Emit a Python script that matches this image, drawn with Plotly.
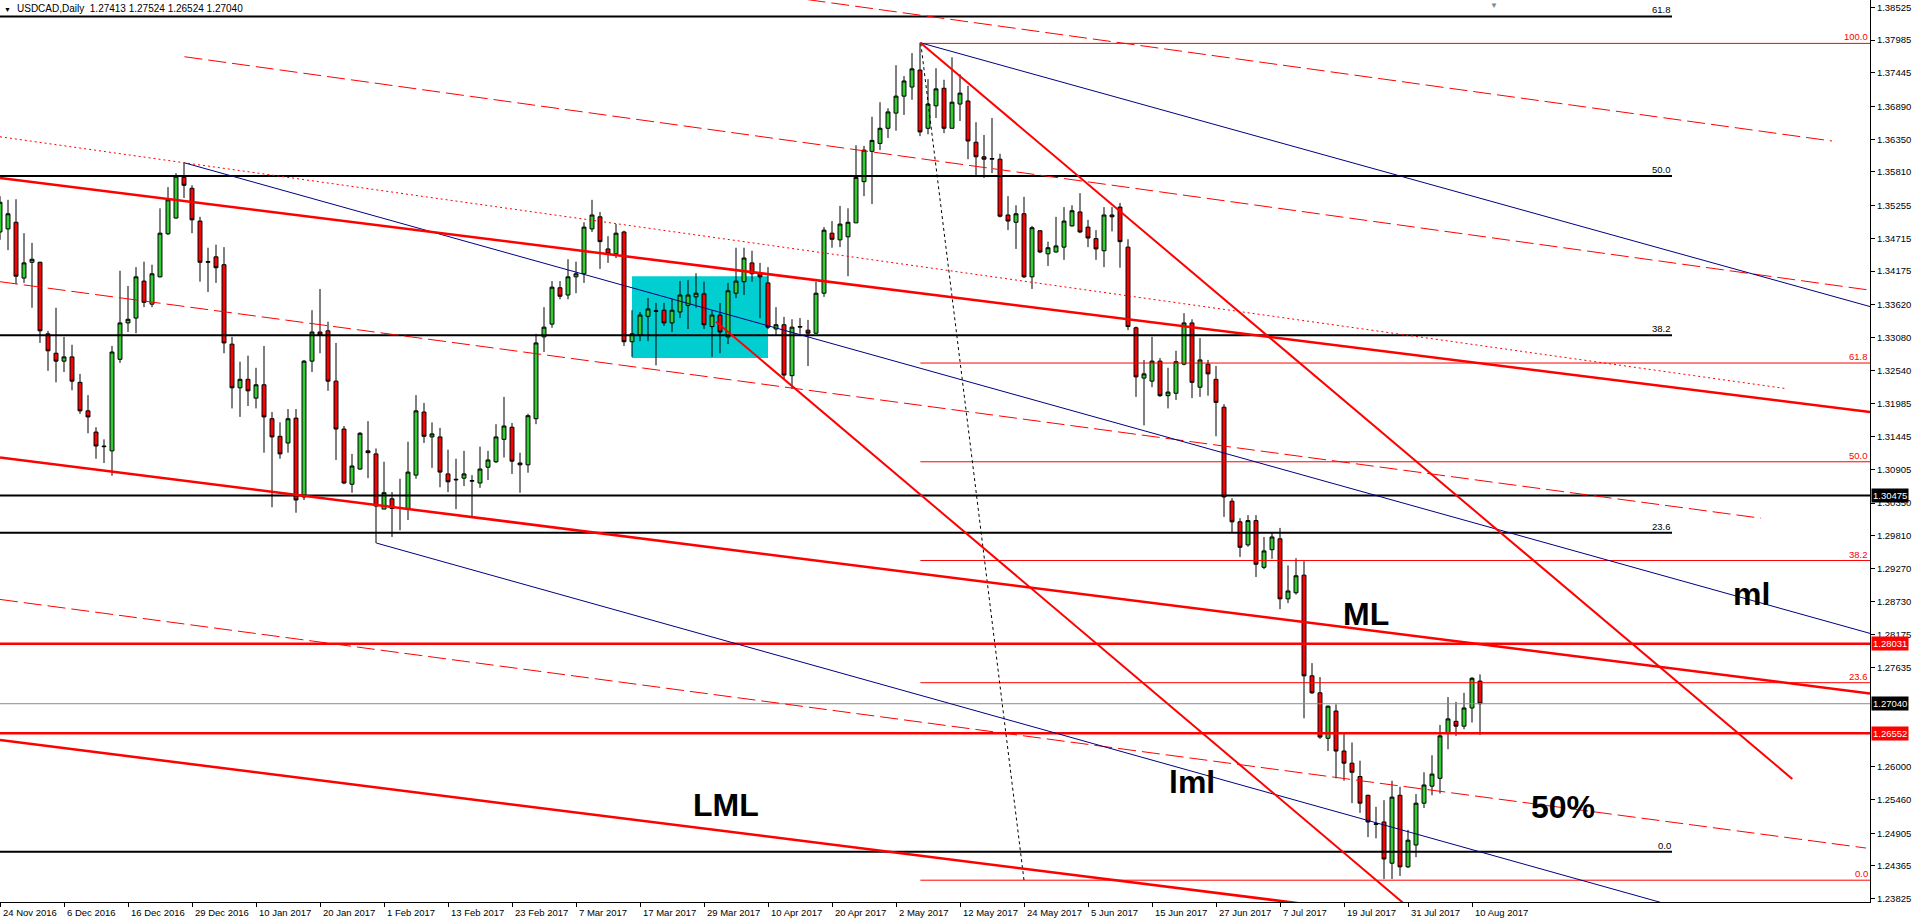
import plotly.graph_objects as go

# ---------------- data ----------------
bar_index = list(range(186))
open_ = [1.3482,1.3487,1.3498,1.3406,1.3432,1.3432,1.3314,1.3282,1.3269,1.3276,
         1.3234,1.3187,1.3152,1.3129,1.3121,1.3272,1.3332,1.3340,1.3401,1.3363,
         1.3408,1.3479,1.3505,1.3572,1.3554,1.3500,1.3432,1.3441,1.3428,1.3297,
         1.3225,1.3239,1.3208,1.3230,1.3174,1.3145,1.3134,1.3175,1.3045,1.3269,
         1.3317,1.3319,1.3236,1.3157,1.3066,1.3091,1.3121,1.3116,1.3025,1.3042,
         1.3026,1.3026,1.3081,1.3185,1.3144,1.3144,1.3083,1.3073,1.3076,1.3071,
         1.3068,1.3094,1.3103,1.3140,1.3160,1.3101,1.3098,1.3174,1.3309,1.3330,
         1.3390,1.3378,1.3408,1.3413,1.3487,1.3507,1.3454,1.3446,1.3482,1.3301,
         1.3312,1.3343,1.3351,1.3353,1.3332,1.3350,1.3361,1.3375,1.3380,1.3326,
         1.3345,1.3309,1.3381,1.3400,1.3431,1.3413,1.3398,1.3322,1.3329,1.3245,
         1.3325,1.3320,1.3315,1.3381,1.3480,1.3469,1.3474,1.3497,1.3565,1.3615,
         1.3628,1.3653,1.3678,1.3706,1.3721,1.3749,1.3653,1.3690,1.3719,1.3653,
         1.3693,1.3698,1.3630,1.3606,1.3602,1.3602,1.3510,1.3498,1.3512,1.3408,
         1.3484,1.3446,1.3449,1.3457,1.3492,1.3515,1.3490,1.3471,1.3451,1.3510,
         1.3523,1.3457,1.3324,1.3241,1.3236,1.3269,1.3212,1.3216,1.3264,1.3332,
         1.3226,1.3264,1.3239,1.3193,1.3038,1.3004,1.2966,1.3006,1.2929,1.2958,
         1.2976,1.2877,1.2887,1.2916,1.2750,1.2722,1.2647,1.2692,1.2626,1.2606,
         1.2584,1.2553,1.2505,1.2509,1.2441,1.2553,1.2435,1.2471,1.2540,1.2568,
         1.2581,1.2656,1.2675,1.2667,1.2697,1.27413]
high = [1.3541,1.3535,1.3536,1.3480,1.3464,1.3433,1.3319,1.3357,1.3309,1.3296,
        1.3248,1.3213,1.3160,1.3140,1.3294,1.3418,1.3393,1.3424,1.3433,1.3428,
        1.3521,1.3556,1.3579,1.3596,1.3559,1.3507,1.3456,1.3461,1.3457,1.3309,
        1.3268,1.3278,1.3258,1.3294,1.3185,1.3168,1.3190,1.3190,1.3271,1.3353,
        1.3388,1.3334,1.3299,1.3162,1.3116,1.3152,1.3170,1.3125,1.3103,1.3053,
        1.3075,1.3136,1.3213,1.3200,1.3168,1.3159,1.3123,1.3108,1.3121,1.3081,
        1.3128,1.3121,1.3165,1.3210,1.3167,1.3118,1.3182,1.3314,1.3358,1.3401,
        1.3401,1.3437,1.3433,1.3498,1.3535,1.3515,1.3475,1.3495,1.3484,1.3353,
        1.3350,1.3373,1.3365,1.3365,1.3371,1.3401,1.3403,1.3414,1.3400,1.3353,
        1.3365,1.3398,1.3456,1.3456,1.3451,1.3431,1.3424,1.3358,1.3342,1.3338,
        1.3340,1.3337,1.3400,1.3490,1.3500,1.3525,1.3521,1.3625,1.3624,1.3672,
        1.3696,1.3686,1.3757,1.3739,1.3777,1.3794,1.3734,1.3752,1.3733,1.3770,
        1.3742,1.3723,1.3663,1.3642,1.3670,1.3611,1.3541,1.3526,1.3540,1.3492,
        1.3485,1.3466,1.3507,1.3523,1.3526,1.3546,1.3502,1.3485,1.3523,1.3523,
        1.3530,1.3470,1.3326,1.3271,1.3309,1.3274,1.3258,1.3286,1.3348,1.3338,
        1.3307,1.3271,1.3261,1.3198,1.3043,1.3010,1.3015,1.3015,1.2979,1.2986,
        1.2994,1.2932,1.2944,1.2939,1.2771,1.2748,1.2701,1.2703,1.2657,1.2640,
        1.2610,1.2554,1.2534,1.2545,1.2577,1.2567,1.2496,1.2555,1.2591,1.2619,
        1.2669,1.2715,1.2707,1.2722,1.2748,1.27524]
low = [1.3469,1.3452,1.3396,1.3398,1.3357,1.3299,1.3253,1.3234,1.3251,1.3221,
       1.3182,1.3150,1.3108,1.3101,1.3080,1.3266,1.3317,1.3315,1.3358,1.3358,
       1.3407,1.3477,1.3504,1.3538,1.3480,1.3400,1.3383,1.3398,1.3282,1.3191,
       1.3177,1.3195,1.3191,1.3118,1.3028,1.3108,1.3118,1.3019,1.3040,1.3251,
       1.3282,1.3220,1.3106,1.3066,1.3052,1.3090,1.3076,1.2969,1.3025,1.2979,
       1.2990,1.3007,1.3075,1.3134,1.3093,1.3061,1.3053,1.3025,1.3063,1.3010,
       1.3060,1.3073,1.3101,1.3110,1.3083,1.3052,1.3085,1.3165,1.3284,1.3324,
       1.3371,1.3371,1.3381,1.3398,1.3482,1.3421,1.3431,1.3439,1.3294,1.3276,
       1.3302,1.3302,1.3262,1.3327,1.3317,1.3340,1.3322,1.3357,1.3322,1.3276,
       1.3282,1.3297,1.3373,1.3378,1.3400,1.3340,1.3322,1.3312,1.3238,1.3223,
       1.3314,1.3261,1.3314,1.3375,1.3456,1.3457,1.3409,1.3497,1.3541,1.3528,
       1.3617,1.3637,1.3649,1.3675,1.3700,1.3640,1.3643,1.3670,1.3645,1.3653,
       1.3665,1.3602,1.3576,1.3571,1.3579,1.3506,1.3485,1.3454,1.3406,1.3388,
       1.3447,1.3426,1.3448,1.3436,1.3491,1.3480,1.3457,1.3436,1.3424,1.3483,
       1.3423,1.3320,1.3210,1.3163,1.3226,1.3210,1.3191,1.3205,1.3262,1.3208,
       1.3210,1.3212,1.3145,1.3012,1.2987,1.2946,1.2963,1.2913,1.2926,1.2943,
       1.2860,1.2870,1.2884,1.2680,1.2720,1.2646,1.2626,1.2581,1.2577,1.2540,
       1.2524,1.2484,1.2482,1.2415,1.2415,1.2420,1.2433,1.2451,1.2532,1.2553,
       1.2556,1.2629,1.2651,1.2662,1.2673,1.26524]
close = [1.3531,1.3512,1.3409,1.3431,1.3437,1.3319,1.3286,1.3269,1.3276,1.3236,
         1.3187,1.3177,1.3129,1.3128,1.3284,1.3332,1.3338,1.3408,1.3366,1.3413,
         1.3480,1.3535,1.3574,1.3559,1.3502,1.3432,1.3433,1.3423,1.3299,1.3225,
         1.3239,1.3220,1.3230,1.3177,1.3144,1.3116,1.3174,1.3040,1.3269,1.3317,
         1.3312,1.3236,1.3157,1.3068,1.3096,1.3150,1.3118,1.3030,1.3052,1.3026,
         1.3027,1.3086,1.3187,1.3145,1.3149,1.3086,1.3070,1.3074,1.3083,1.3072,
         1.3091,1.3106,1.3144,1.3162,1.3104,1.3098,1.3179,1.3299,1.3325,1.3391,
         1.3376,1.3408,1.3413,1.3490,1.3510,1.3466,1.3446,1.3480,1.3301,1.3314,
         1.3345,1.3355,1.3352,1.3332,1.3353,1.3378,1.3378,1.3381,1.3329,1.3345,
         1.3317,1.3385,1.3401,1.3439,1.3413,1.3408,1.3325,1.3329,1.3246,1.3325,
         1.3326,1.3315,1.3381,1.3485,1.3470,1.3495,1.3498,1.3572,1.3617,1.3633,
         1.3653,1.3680,1.3706,1.3731,1.3751,1.3647,1.3693,1.3718,1.3653,1.3696,
         1.3711,1.3632,1.3606,1.3602,1.3603,1.3508,1.3500,1.3512,1.3408,1.3489,
         1.3449,1.3456,1.3459,1.3500,1.3517,1.3482,1.3472,1.3454,1.3510,1.3507,
         1.3466,1.3326,1.3243,1.3248,1.3269,1.3212,1.3218,1.3268,1.3332,1.3234,
         1.3271,1.3248,1.3201,1.3045,1.3004,1.2962,1.3006,1.2934,1.2956,1.2979,
         1.2877,1.2890,1.2915,1.2750,1.2722,1.2649,1.2700,1.2626,1.2606,1.2591,
         1.2540,1.2509,1.2506,1.2448,1.2550,1.2435,1.2479,1.2540,1.2570,1.2588,
         1.2651,1.2679,1.2667,1.2697,1.2746,1.27040]

date_tick_index = [0, 8, 16, 24, 32, 40, 48, 56, 64, 72, 80, 88, 96, 104, 112,
                   120, 128, 136, 144, 152, 160, 168, 176, 184]
date_tick_text = ["24 Nov 2016", "6 Dec 2016", "16 Dec 2016", "29 Dec 2016",
                  "10 Jan 2017", "20 Jan 2017", "1 Feb 2017", "13 Feb 2017",
                  "23 Feb 2017", "7 Mar 2017", "17 Mar 2017", "29 Mar 2017",
                  "10 Apr 2017", "20 Apr 2017", "2 May 2017", "12 May 2017",
                  "24 May 2017", "5 Jun 2017", "15 Jun 2017", "27 Jun 2017",
                  "7 Jul 2017", "19 Jul 2017", "31 Jul 2017", "10 Aug 2017"]

price_ticks = [1.38525, 1.37985, 1.37445, 1.36890, 1.36350, 1.35810, 1.35255,
               1.34715, 1.34175, 1.33620, 1.33080, 1.32540, 1.31985, 1.31445,
               1.30905, 1.30350, 1.29810, 1.29270, 1.28730, 1.28175, 1.27635,
               1.26000, 1.25460, 1.24905, 1.24365, 1.23825]

# trend lines: (bar index, price) anchors
red_channel_upper = [(0, 1.3571), (233.75, 1.3185)]
red_channel_ML = [(0, 1.3110), (233.75, 1.2721)]
red_channel_LML = [(0, 1.2644), (175, 1.2354)]
red_steep_1 = [(115.05, 1.3794), (224.04, 1.2580)]
red_steep_2 = [(89.5, 1.3334), (177.5, 1.2352)]
blue_upper = [(115.05, 1.3794), (233.75, 1.3359)]
blue_ml = [(23.06, 1.3596), (233.75, 1.2820)]
blue_lml = [(47.04, 1.2969), (215, 1.2349)]
red_dash_1 = [(23.06, 1.3771), (233.75, 1.3386)]
red_dash_2 = [(95, 1.3876), (229, 1.3632)]
red_dot_3 = [(0, 1.3639), (223.06, 1.3224)]
red_dash_4 = [(0, 1.3400), (220.1, 1.3010)]
red_dash_5 = [(0, 1.2876), (233.25, 1.2466)]
fib_red_anchor_line = [(115.1, 1.3793), (128, 1.2413)]

fib_black_low, fib_black_high = 1.2460, 1.4689
fib_black_ratios = [0.0, 23.6, 38.2, 50.0, 61.8]
fib_black_span = (0, 209)
fib_red_low, fib_red_high = 1.2413, 1.3793
fib_red_ratios = [0.0, 23.6, 38.2, 50.0, 61.8, 100.0]
fib_red_span = (115.05, 233.75)

hline_black = 1.30475
hline_red = [1.28031, 1.26552]
bid_price = 1.27040

cyan_box = dict(x0=79.0, x1=96.0, y0=1.3274, y1=1.3409)

text_labels = [("ML", 170.75, 1.2852), ("ml", 218.9, 1.2885), ("lml", 149.0, 1.2575),
               ("LML", 90.75, 1.2537), ("50%", 195.4, 1.2534)]

X_RANGE = [0, 233.75]
Y_RANGE = [1.237703, 1.386454]

FONT = "Liberation Sans, Arial, sans-serif"

# ---------------- figure ----------------
fig = go.Figure()

fig.add_trace(go.Candlestick(
    x=bar_index, open=open_, high=high, low=low, close=close,
    increasing=dict(fillcolor="#32CD32", line=dict(color="black", width=1)),
    decreasing=dict(fillcolor="#FF0000", line=dict(color="black", width=1)),
    whiskerwidth=0, hoverinfo="skip", showlegend=False))


def add_line(pts, color, width, dash="solid"):
    fig.add_trace(go.Scatter(
        x=[p[0] for p in pts], y=[p[1] for p in pts], mode="lines",
        line=dict(color=color, width=width, dash=dash),
        hoverinfo="skip", showlegend=False))


# horizontal levels
for r in fib_black_ratios:
    lvl = fib_black_low + r / 100.0 * (fib_black_high - fib_black_low)
    add_line([(fib_black_span[0], lvl), (fib_black_span[1], lvl)], "black", 2)
for r in fib_red_ratios:
    lvl = fib_red_low + r / 100.0 * (fib_red_high - fib_red_low)
    add_line([(fib_red_span[0], lvl), (fib_red_span[1], lvl)], "#FF0000", 1)

add_line([(X_RANGE[0], bid_price), (X_RANGE[1], bid_price)], "#8c8c8c", 1)
add_line([(X_RANGE[0], hline_black), (X_RANGE[1], hline_black)], "black", 2)
for p in hline_red:
    add_line([(X_RANGE[0], p), (X_RANGE[1], p)], "#FF0000", 2.5)

# dashed / dotted lines
DASH = "18px,6px"
for seg in (red_dash_1, red_dash_2, red_dash_4, red_dash_5):
    add_line(seg, "#FF0000", 1, DASH)
add_line(red_dot_3, "#FF0000", 1, "2px,3px")
add_line(fib_red_anchor_line, "black", 1, "3px,3px")

# blue pitchfork
for seg in (blue_upper, blue_ml, blue_lml):
    add_line(seg, "#000080", 1)

# thick red lines
for seg in (red_channel_upper, red_channel_ML, red_channel_LML):
    add_line(seg, "#FF0000", 2.5)
for seg in (red_steep_1, red_steep_2):
    add_line(seg, "#FF0000", 2)

shapes = [dict(type="rect", xref="x", yref="y", layer="below",
               x0=cyan_box["x0"], x1=cyan_box["x1"], y0=cyan_box["y0"], y1=cyan_box["y1"],
               fillcolor="#00CED1", line=dict(width=0))]

annotations = []
# fib labels
for r in fib_black_ratios:
    lvl = fib_black_low + r / 100.0 * (fib_black_high - fib_black_low)
    annotations.append(dict(x=fib_black_span[1], y=lvl, xref="x", yref="y",
                            text=f"{r:.1f}", showarrow=False, xanchor="right",
                            yanchor="bottom", borderpad=0,
                            font=dict(family=FONT, size=9.5, color="black")))
for r in fib_red_ratios:
    lvl = fib_red_low + r / 100.0 * (fib_red_high - fib_red_low)
    annotations.append(dict(x=fib_red_span[1], y=lvl, xref="x", yref="y",
                            text=f"{r:.1f}", showarrow=False, xanchor="right",
                            yanchor="bottom", borderpad=0, xshift=-1,
                            font=dict(family=FONT, size=9.5, color="#FF0000")))

# big text labels
for txt, xi, yp in text_labels:
    annotations.append(dict(x=xi, y=yp, xref="x", yref="y", text=txt, showarrow=False,
                            xanchor="center", yanchor="middle",
                            font=dict(family=FONT, size=32, color="black", weight="bold")))

# date labels
for xi, txt in zip(date_tick_index, date_tick_text):
    annotations.append(dict(x=xi, y=0, xref="x", yref="paper", text=txt, showarrow=False,
                            xanchor="left", yanchor="middle", xshift=1, yshift=-10,
                            font=dict(family=FONT, size=9.5, color="black")))

# price boxes on axis
for p, bg in ((hline_black, "black"), (hline_red[0], "#FF0000"),
              (bid_price, "black"), (hline_red[1], "#FF0000")):
    annotations.append(dict(x=1, y=p, xref="paper", yref="y", text=f"{p:.5f}",
                            showarrow=False, xanchor="left", yanchor="middle", xshift=1,
                            bgcolor=bg, borderpad=1,
                            font=dict(family=FONT, size=9.5, color="white")))

# title
annotations.append(dict(x=15 / 1870, y=1 - 8.5 / 902, xref="paper", yref="paper",
                        text="USDCAD,Daily  1.27413 1.27524 1.26524 1.27040",
                        showarrow=False, xanchor="left", yanchor="middle",
                        font=dict(family=FONT, size=10, color="black")))
annotations.append(dict(x=2 / 1870, y=1 - 9 / 902, xref="paper", yref="paper",
                        text="▼", showarrow=False, xanchor="left", yanchor="middle",
                        font=dict(family=FONT, size=7, color="black")))
annotations.append(dict(x=1494 / 1870, y=1, xref="paper", yref="paper",
                        text="▼", showarrow=False, xanchor="center", yanchor="top",
                        yshift=0, borderpad=0,
                        font=dict(family=FONT, size=8, color="#7d8a96")))

fig.update_layout(
    width=1915, height=923, autosize=False,
    margin=dict(l=0, r=45, t=0, b=21, pad=0),
    paper_bgcolor="white", plot_bgcolor="white",
    showlegend=False, dragmode=False,
    shapes=shapes, annotations=annotations,
    xaxis=dict(range=X_RANGE, showgrid=False, zeroline=False, showline=True,
               linecolor="black", linewidth=1, mirror=True,
               tickmode="array", tickvals=date_tick_index, ticks="outside",
               ticklen=4, tickcolor="black", showticklabels=False,
               rangeslider=dict(visible=False), fixedrange=True),
    yaxis=dict(range=Y_RANGE, side="right", showgrid=False, zeroline=False,
               showline=True, linecolor="black", linewidth=1,
               tickmode="array", tickvals=price_ticks,
               ticktext=[f"{v:.5f}" for v in price_ticks],
               ticks="outside", ticklen=4, tickcolor="black",
               tickfont=dict(family=FONT, size=9.5, color="black"), fixedrange=True),
)

fig.write_html("out.html", config={"displayModeBar": False, "staticPlot": True},
               post_script="document.body.style.margin='0px';document.body.style.overflow='hidden';")
